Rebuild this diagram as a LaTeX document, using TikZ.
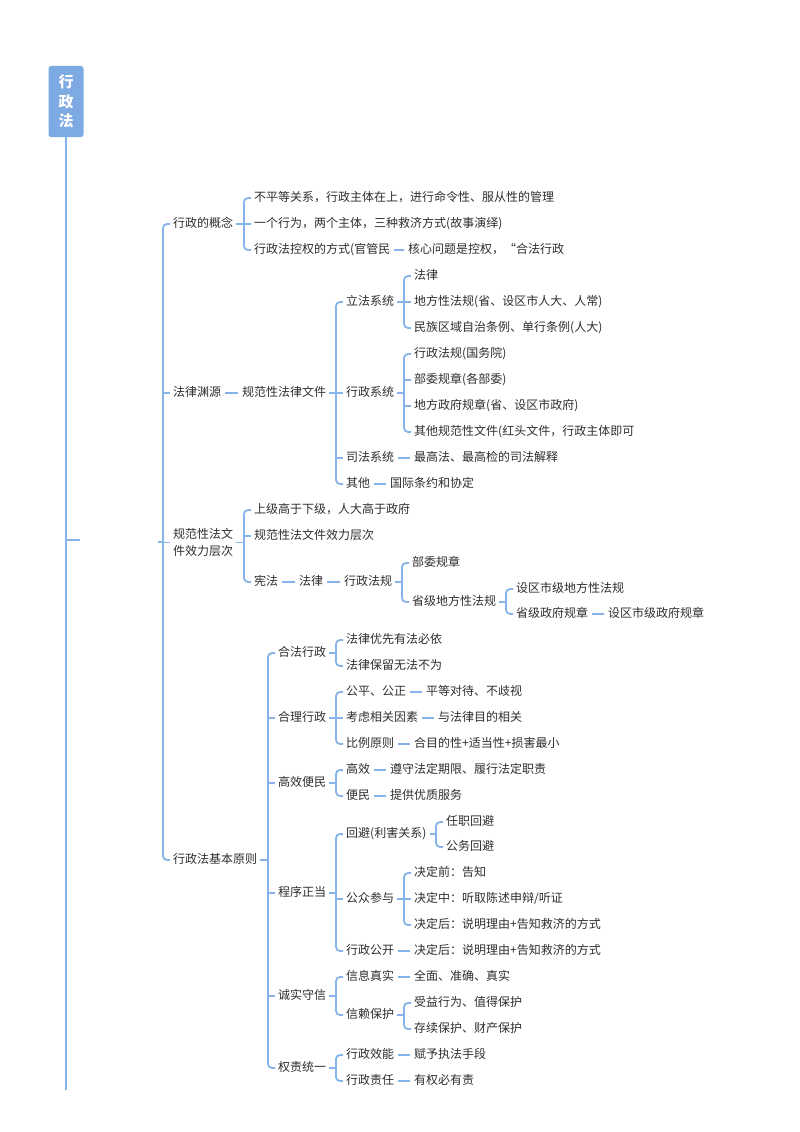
\documentclass[tikz,border=0pt]{standalone}
\usepackage{fontspec}
\setmainfont{Noto Sans CJK SC}
\definecolor{lc}{RGB}{135,180,232}
\definecolor{tc}{RGB}{45,45,45}
\definecolor{rootc}{RGB}{125,170,226}
\tikzset{
  conn/.style={draw=lc, line width=1.8pt},
  tb/.style={anchor=west, inner sep=0pt, text=tc, yshift=-2pt, font=\fontsize{12pt}{17pt}\selectfont},
  t/.style={tb, text height=10pt, text depth=2.2pt},
  rootbox/.style={fill=rootc, rounded corners=2.5pt, minimum width=35pt, minimum height=71pt, inner sep=0pt, text=white, align=center, font=\fontsize{15pt}{19.5pt}\selectfont\bfseries}
}
\newcommand{\brkt}[3]{%
  \coordinate (bx) at ([xshift=-10pt]#2.west);
  \draw[conn] ([xshift=3pt]#1.east) -- (#1.east -| bx);
  \draw[conn,rounded corners=4pt] ([xshift=-3pt]#2.west) -| ([xshift=-10pt]#3.west) -- ([xshift=-3pt]#3.west);
}
\newcommand{\mstub}[1]{\draw[conn] ([xshift=-3pt]#1.west) -- (#1.west -| bx);}
\newcommand{\lnk}[2]{\draw[conn] ([xshift=4pt]#1.east) -- ([xshift=-4pt]#2.west);}
\begin{document}
\begin{tikzpicture}[x=1pt,y=-1pt]
\useasboundingbox (0,0) rectangle (800,1132);
% root
\node[rootbox] (root) at (66,101.5) {行\\政\\法};
\coordinate (rootend) at (66,1090);
\coordinate (rtick) at (80,540);
\draw[conn] (root.south) -- (rootend);
\draw[conn] (root.south |- rtick) -- (rtick);
% level 1
\node[inner sep=0pt] (l1) at (154,542) {};
\node[t] (a) at (173,222) {行政的概念};
\node[t] (b) at (173,391) {法律渊源};
\node[tb,align=left,yshift=2pt] (c) at (173,542.5) {规范性法文\\件效力层次};
\node[t] (d) at (173,858) {行政法基本原则};
\brkt{l1}{a}{d}\mstub{b}\mstub{c}
% 行政的概念
\node[t] (a1) at (254,196) {不平等关系，行政主体在上，进行命令性、服从性的管理};
\node[t] (a2) at (254,222) {一个行为，两个主体，三种救济方式(故事演绎)};
\node[t] (a3) at (254,248) {行政法控权的方式(官管民};
\node[t] (a31) at (408,248) {核心问题是控权，“合法行政};
\brkt{a}{a1}{a3}\mstub{a2}
\lnk{a3}{a31}
% 法律渊源
\node[t] (b1) at (242,391) {规范性法律文件};
\lnk{b}{b1}
\node[t] (b11) at (346,300) {立法系统};
\node[t] (b12) at (346,391) {行政系统};
\node[t] (b13) at (346,456) {司法系统};
\node[t] (b14) at (346,482) {其他};
\brkt{b1}{b11}{b14}\mstub{b12}\mstub{b13}
\node[t] (b111) at (414,274) {法律};
\node[t] (b112) at (414,300) {地方性法规(省、设区市人大、人常)};
\node[t] (b113) at (414,326) {民族区域自治条例、单行条例(人大)};
\brkt{b11}{b111}{b113}\mstub{b112}
\node[t] (b121) at (414,352) {行政法规(国务院)};
\node[t] (b122) at (414,378) {部委规章(各部委)};
\node[t] (b123) at (414,404) {地方政府规章(省、设区市政府)};
\node[t] (b124) at (414,430) {其他规范性文件(红头文件，行政主体即可};
\brkt{b12}{b121}{b124}\mstub{b122}\mstub{b123}
\node[t] (b131) at (414,456) {最高法、最高检的司法解释};
\lnk{b13}{b131}
\node[t] (b141) at (390,482) {国际条约和协定};
\lnk{b14}{b141}
% 规范性法文件效力层次
\node[t] (c1) at (254,508) {上级高于下级，人大高于政府};
\node[t] (c2) at (254,534) {规范性法文件效力层次};
\node[t] (c3) at (254,580) {宪法};
\brkt{c}{c1}{c3}\mstub{c2}
\node[t] (c31) at (299,580) {法律};
\lnk{c3}{c31}
\node[t] (c32) at (344,580) {行政法规};
\lnk{c31}{c32}
\node[t] (c321) at (412,561) {部委规章};
\node[t] (c322) at (412,600) {省级地方性法规};
\brkt{c32}{c321}{c322}
\node[t] (c3221) at (516,587) {设区市级地方性法规};
\node[t] (c3222) at (516,612) {省级政府规章};
\brkt{c322}{c3221}{c3222}
\node[t] (c32221) at (608,612) {设区市级政府规章};
\lnk{c3222}{c32221}
% 行政法基本原则
\node[t] (d1) at (278,651) {合法行政};
\node[t] (d2) at (278,716) {合理行政};
\node[t] (d3) at (278,781) {高效便民};
\node[t] (d4) at (278,891) {程序正当};
\node[t] (d5) at (278,994) {诚实守信};
\node[t] (d6) at (278,1066) {权责统一};
\brkt{d}{d1}{d6}\mstub{d2}\mstub{d3}\mstub{d4}\mstub{d5}
% 合法行政
\node[t] (d11) at (346,638) {法律优先有法必依};
\node[t] (d12) at (346,664) {法律保留无法不为};
\brkt{d1}{d11}{d12}
% 合理行政
\node[t] (d21) at (346,690) {公平、公正};
\node[t] (d22) at (346,716) {考虑相关因素};
\node[t] (d23) at (346,742) {比例原则};
\brkt{d2}{d21}{d23}\mstub{d22}
\node[t] (d211) at (426,690) {平等对待、不歧视};
\lnk{d21}{d211}
\node[t] (d221) at (438,716) {与法律目的相关};
\lnk{d22}{d221}
\node[t] (d231) at (414,742) {合目的性+适当性+损害最小};
\lnk{d23}{d231}
% 高效便民
\node[t] (d31) at (346,768) {高效};
\node[t] (d32) at (346,794) {便民};
\brkt{d3}{d31}{d32}
\node[t] (d311) at (390,768) {遵守法定期限、履行法定职责};
\lnk{d31}{d311}
\node[t] (d321) at (390,794) {提供优质服务};
\lnk{d32}{d321}
% 程序正当
\node[t] (d41) at (346,832) {回避(利害关系)};
\node[t] (d42) at (346,897) {公众参与};
\node[t] (d43) at (346,949) {行政公开};
\brkt{d4}{d41}{d43}\mstub{d42}
\node[t] (d411) at (446,820) {任职回避};
\node[t] (d412) at (446,845) {公务回避};
\brkt{d41}{d411}{d412}
\node[t] (d421) at (414,871) {决定前：告知};
\node[t] (d422) at (414,897) {决定中：听取陈述申辩/听证};
\node[t] (d423) at (414,923) {决定后：说明理由+告知救济的方式};
\brkt{d42}{d421}{d423}\mstub{d422}
\node[t] (d431) at (414,949) {决定后：说明理由+告知救济的方式};
\lnk{d43}{d431}
% 诚实守信
\node[t] (d51) at (346,975) {信息真实};
\node[t] (d52) at (346,1013) {信赖保护};
\brkt{d5}{d51}{d52}
\node[t] (d511) at (414,975) {全面、准确、真实};
\lnk{d51}{d511}
\node[t] (d521) at (414,1001) {受益行为、值得保护};
\node[t] (d522) at (414,1027) {存续保护、财产保护};
\brkt{d52}{d521}{d522}
% 权责统一
\node[t] (d61) at (346,1053) {行政效能};
\node[t] (d62) at (346,1079) {行政责任};
\brkt{d6}{d61}{d62}
\node[t] (d611) at (414,1053) {赋予执法手段};
\lnk{d61}{d611}
\node[t] (d621) at (414,1079) {有权必有责};
\lnk{d62}{d621}
\end{tikzpicture}
\end{document}
